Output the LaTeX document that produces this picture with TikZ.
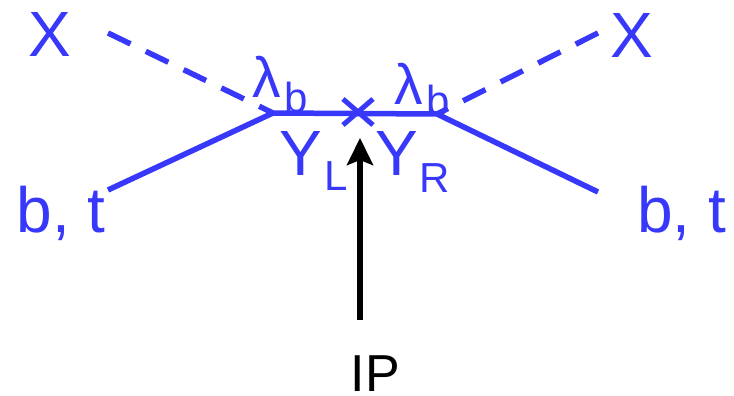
\documentclass[tikz,border=0pt]{standalone}
\usepackage{fontspec}
\setmainfont{Liberation Sans}
\usetikzlibrary{arrows.meta}
\definecolor{fblue}{RGB}{56,56,250}
\tikzset{
  fline/.style={draw=fblue, line width=5.5pt},
  fdash/.style={draw=fblue, line width=5.5pt, dash pattern=on 25pt off 17pt},
  lbl/.style={text=fblue, inner sep=0pt, anchor=base},
  big/.style={lbl, font=\fontsize{64}{70}\selectfont},
  mid/.style={lbl, font=\fontsize{57}{62}\selectfont},
  small/.style={lbl, font=\fontsize{42}{48}\selectfont},
}
\begin{document}
\begin{tikzpicture}[x=1pt,y=-1pt]
\useasboundingbox (0,0) rectangle (734,396);
% vertices and ends
\coordinate (vl) at (273,113);
\coordinate (vr) at (437,114);
\coordinate (xl) at (108,33);
\coordinate (xr) at (598,33);
\coordinate (bl) at (108,190);
\coordinate (br) at (598,192);
\coordinate (ipt) at (360,320);
\coordinate (tip) at (360,138);
% lines
\draw[fdash] (xl) -- (vl);
\draw[fdash] (xr) -- (vr);
\draw[fline] (bl) -- (vl) -- (vr) -- (br);
% cross
\node (cross) at (358,112) {};
\draw[draw=fblue, line width=5pt] ([shift={(-15,-13)}]cross.center) -- ([shift={(15,13)}]cross.center);
\draw[draw=fblue, line width=5pt] ([shift={(-15,13)}]cross.center) -- ([shift={(15,-13)}]cross.center);
% arrow
\draw[line width=6pt, -{Stealth[length=27pt,width=26pt,inset=5pt]}] (ipt) -- (tip);
% labels
\node[big] (XL) at (49.5,57) {X};
\node[big] (XR) at (632,58) {X};
\node[big] (BTL) at (61,232) {b, t};
\node[big] (BTR) at (681.5,232) {b, t};
\node[mid] (lamL) at (266.5,98) {λ};
\node[small] (bL) at (296,112) {b};
\node[mid] (lamR) at (409,104) {λ};
\node[small] (bR) at (438,115) {b};
\node[big] (YL) at (301,175) {Y};
\node[small] (LL) at (336,190) {L};
\node[big] (YR) at (397,175) {Y};
\node[small] (RR) at (434.5,192) {R};
\node[lbl, text=black, font=\fontsize{52}{58}\selectfont] (IP) at (375.5,391) {IP};
\end{tikzpicture}
\end{document}
